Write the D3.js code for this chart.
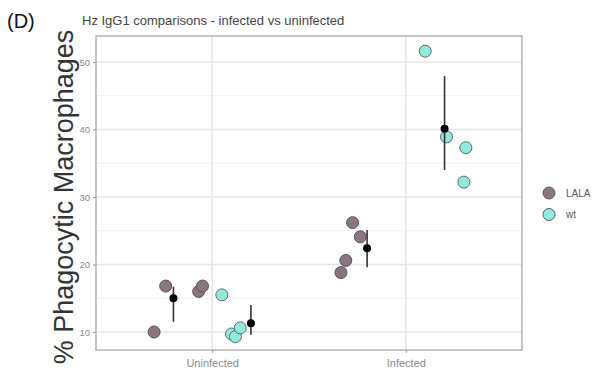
<!DOCTYPE html>
<html>
<head>
<meta charset="utf-8">
<script src="https://cdn.jsdelivr.net/npm/d3@7"></script>
<style>
  body { margin: 0; background: #fff; }
  svg { font-family: 'Liberation Sans', Arial, sans-serif; }
</style>
</head>
<body>
<svg id="chart" width="604" height="373"></svg>
<script>
const categories = ['Uninfected', 'Infected'];
const groups = ['LALA', 'wt'];
const yTicks = [10, 20, 30, 40, 50];

// individual points: x position in category units (jittered), y value
const lalaX = [0.70, 0.76, 0.93, 0.95, 1.665, 1.69, 1.725, 1.765];
const lalaY = [10.0, 16.8, 16.0, 16.8, 18.8, 20.6, 26.2, 24.1];
const wtX = [1.05, 1.10, 1.12, 1.145, 2.10, 2.21, 2.30, 2.31];
const wtY = [15.5, 9.7, 9.3, 10.6, 51.6, 38.9, 32.2, 37.3];

// group means with error bars
const meanX = [0.8, 1.2, 1.8, 2.2];
const meanY = [15.0, 11.3, 22.4, 40.1];
const meanLo = [11.5, 9.6, 19.6, 34.0];
const meanHi = [16.7, 14.0, 25.1, 47.9];

const colors = { LALA: '#8b7582', wt: '#92eadf' };

const svg = d3.select('#chart');
const pLeft = 96, pRight = 522, pTop = 36, pBottom = 350;

const x = d3.scaleLinear().domain([0.4, 2.6]).range([pLeft, pRight]);
const y = d3.scaleLinear().domain([7.33, 53.85]).range([pBottom, pTop]);

// grid
const grid = svg.append('g');
grid.selectAll('line.minor')
  .data([15, 25, 35, 45])
  .enter()
    .append('line')
    .attr('x1', pLeft).attr('x2', pRight)
    .attr('y1', (d) => y(d)).attr('y2', (d) => y(d))
    .attr('stroke', '#f1f1f1').attr('stroke-width', 1.2);
grid.selectAll('line.major')
  .data(yTicks)
  .enter()
    .append('line')
    .attr('x1', pLeft).attr('x2', pRight)
    .attr('y1', (d) => y(d)).attr('y2', (d) => y(d))
    .attr('stroke', '#e6e6e6').attr('stroke-width', 1.6);
grid.selectAll('line.vert')
  .data([1, 2])
  .enter()
    .append('line')
    .attr('x1', (d) => x(d)).attr('x2', (d) => x(d))
    .attr('y1', pTop).attr('y2', pBottom)
    .attr('stroke', '#e6e6e6').attr('stroke-width', 1.6);

svg.append('rect')
  .attr('x', pLeft).attr('y', pTop)
  .attr('width', pRight - pLeft).attr('height', pBottom - pTop)
  .attr('fill', 'none').attr('stroke', '#b3b3b3').attr('stroke-width', 1.5);

// axes
const yAxis = svg.append('g')
  .attr('transform', `translate(${pLeft},0)`)
  .call(d3.axisLeft(y).tickValues(yTicks).tickSize(3).tickPadding(3));
yAxis.select('.domain').remove();
yAxis.selectAll('line').attr('stroke', '#999');
yAxis.selectAll('text').attr('fill', '#8a8a8a').attr('font-size', 9.5);

const xAxis = svg.append('g')
  .attr('transform', `translate(0,${pBottom})`)
  .call(d3.axisBottom(x).tickValues([1, 2]).tickFormat((d) => categories[d - 1]).tickSize(3).tickPadding(6));
xAxis.select('.domain').remove();
xAxis.selectAll('line').attr('stroke', '#999');
xAxis.selectAll('text').attr('fill', '#8a8a8a').attr('font-size', 11);

// points
const pts = svg.append('g');
pts.selectAll('circle.lala')
  .data(d3.zip(lalaX, lalaY))
  .enter()
    .append('circle')
    .attr('cx', (d) => x(d[0])).attr('cy', (d) => y(d[1]))
    .attr('r', 6)
    .attr('fill', colors.LALA).attr('stroke', '#5a5056').attr('stroke-width', 1);
pts.selectAll('circle.wt')
  .data(d3.zip(wtX, wtY))
  .enter()
    .append('circle')
    .attr('cx', (d) => x(d[0])).attr('cy', (d) => y(d[1]))
    .attr('r', 6)
    .attr('fill', colors.wt).attr('stroke', '#5c6b69').attr('stroke-width', 1);

// means and error bars
const means = svg.append('g');
means.selectAll('line')
  .data(d3.range(meanX.length))
  .enter()
    .append('line')
    .attr('x1', (i) => x(meanX[i])).attr('x2', (i) => x(meanX[i]))
    .attr('y1', (i) => y(meanLo[i])).attr('y2', (i) => y(meanHi[i]))
    .attr('stroke', '#333').attr('stroke-width', 1.6);
means.selectAll('circle')
  .data(d3.range(meanX.length))
  .enter()
    .append('circle')
    .attr('cx', (i) => x(meanX[i])).attr('cy', (i) => y(meanY[i]))
    .attr('r', 4)
    .attr('fill', '#000');

// legend
const legend = svg.append('g');
groups.forEach((g, i) => {
  legend.append('circle')
    .attr('cx', 549).attr('cy', 193 + i * 21.5)
    .attr('r', 6)
    .attr('fill', colors[g]).attr('stroke', '#5a5a5a').attr('stroke-width', 1);
  legend.append('text')
    .attr('x', 566).attr('y', 193 + i * 21.5)
    .attr('dy', '0.35em')
    .attr('font-size', 10).attr('fill', '#555')
    .text(g);
});

// titles
svg.append('text')
  .attr('x', 7).attr('y', 28)
  .attr('font-size', 20).attr('fill', '#111')
  .text('(D)');
svg.append('text')
  .attr('x', 82).attr('y', 25)
  .attr('font-size', 13).attr('fill', '#444')
  .text('Hz IgG1 comparisons - infected vs uninfected');
svg.append('text')
  .attr('transform', 'translate(73,197) rotate(-90)')
  .attr('text-anchor', 'middle')
  .attr('font-size', 27).attr('fill', '#333')
  .text('% Phagocytic Macrophages');
</script>
</body>
</html>
